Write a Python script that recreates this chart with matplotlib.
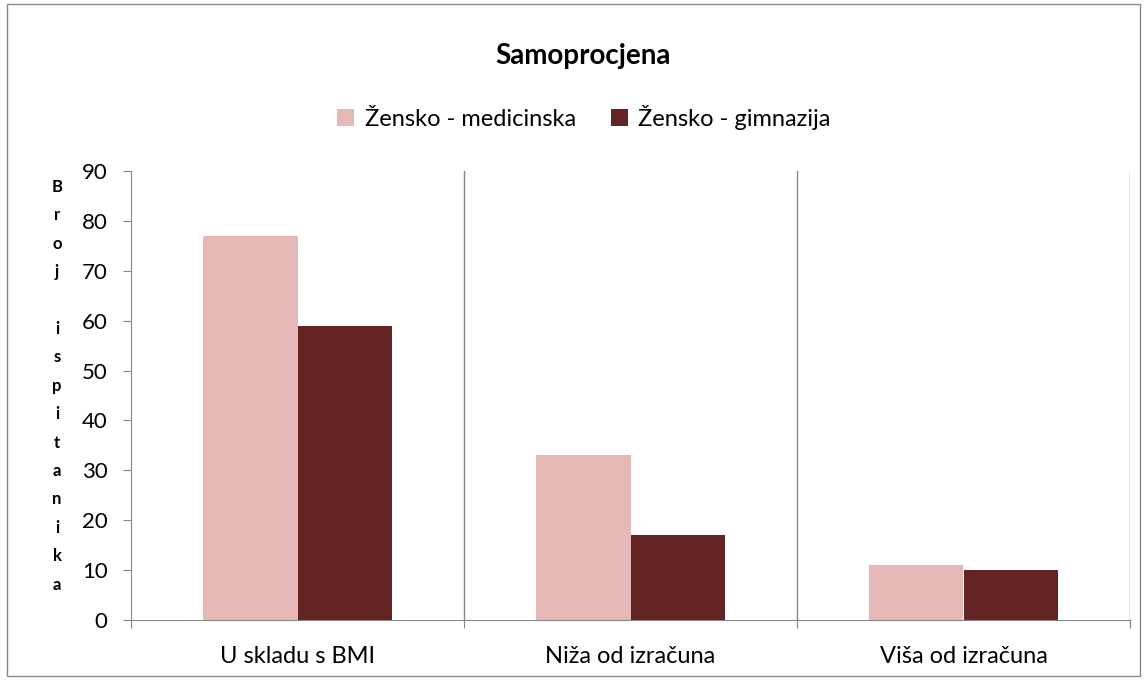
import matplotlib.pyplot as plt
import numpy as np
from matplotlib.patches import Rectangle

plt.rcParams['font.family'] = ['Lato', 'DejaVu Sans']

categories = ["U skladu s BMI", "Niža od izračuna", "Viša od izračuna"]
series_names = ["Žensko - medicinska", "Žensko - gimnazija"]
medicinska = [77, 33, 11]
gimnazija = [59, 17, 10]
yticks = [0, 10, 20, 30, 40, 50, 60, 70, 80, 90]
ylabel = "Broj ispitanika"

colors = ["#E6B9B8", "#632423"]
axis_col = "#868686"

fig = plt.figure(figsize=(11.47, 6.8), dpi=100)
ax = fig.add_axes([131 / 1147, 1 - 620 / 680, (1130 - 131) / 1147, (620 - 171) / 680])

x = np.arange(len(categories))
w = 0.285
ax.bar(x - w / 2, medicinska, w, color=colors[0], label=series_names[0])
ax.bar(x + w / 2, gimnazija, w, color=colors[1], label=series_names[1])

ax.set_xlim(-0.5, len(categories) - 0.5)
ax.set_ylim(0, 90)
ax.set_yticks(yticks)
ax.tick_params(axis='y', labelsize=16, length=5.8, color=axis_col, pad=11)

# category boundaries: gridlines + ticks
bounds = np.arange(len(categories) + 1) - 0.5
ax.set_xticks(bounds)
ax.set_xticklabels([])
ax.set_xticks(x, minor=True)
ax.set_xticklabels(categories, minor=True, fontsize=17)
ax.tick_params(axis='x', which='major', length=5.8, color=axis_col)
ax.tick_params(axis='x', which='minor', length=0, pad=19)
for b in bounds[1:]:
    ax.axvline(b, color=axis_col, lw=1, zorder=0)

for s in ['top', 'right']:
    ax.spines[s].set_visible(False)
for s in ['left', 'bottom']:
    ax.spines[s].set_color(axis_col)

fig.text(583 / 1147, 1 - 56 / 680, "Samoprocjena", ha='center', va='center',
         fontsize=20, fontweight='bold')

fig.legend(loc='center', bbox_to_anchor=(584 / 1147, 1 - 117 / 680), ncol=2,
           frameon=False, fontsize=17, handlelength=0.7, handleheight=0.7,
           handletextpad=0.45, columnspacing=1.5)

# stacked letters of the y label
for i, ch in enumerate(ylabel):
    fig.text(57 / 1147, 1 - (187 + i * 28.4) / 680, ch, ha='center', va='center',
             fontsize=12, fontweight='bold')

fig.patches.append(Rectangle((7 / 1147, 4 / 680), 1133 / 1147, 672 / 680,
                             transform=fig.transFigure, fill=False,
                             edgecolor=axis_col, lw=1))

fig.savefig("out.png", dpi=100)
